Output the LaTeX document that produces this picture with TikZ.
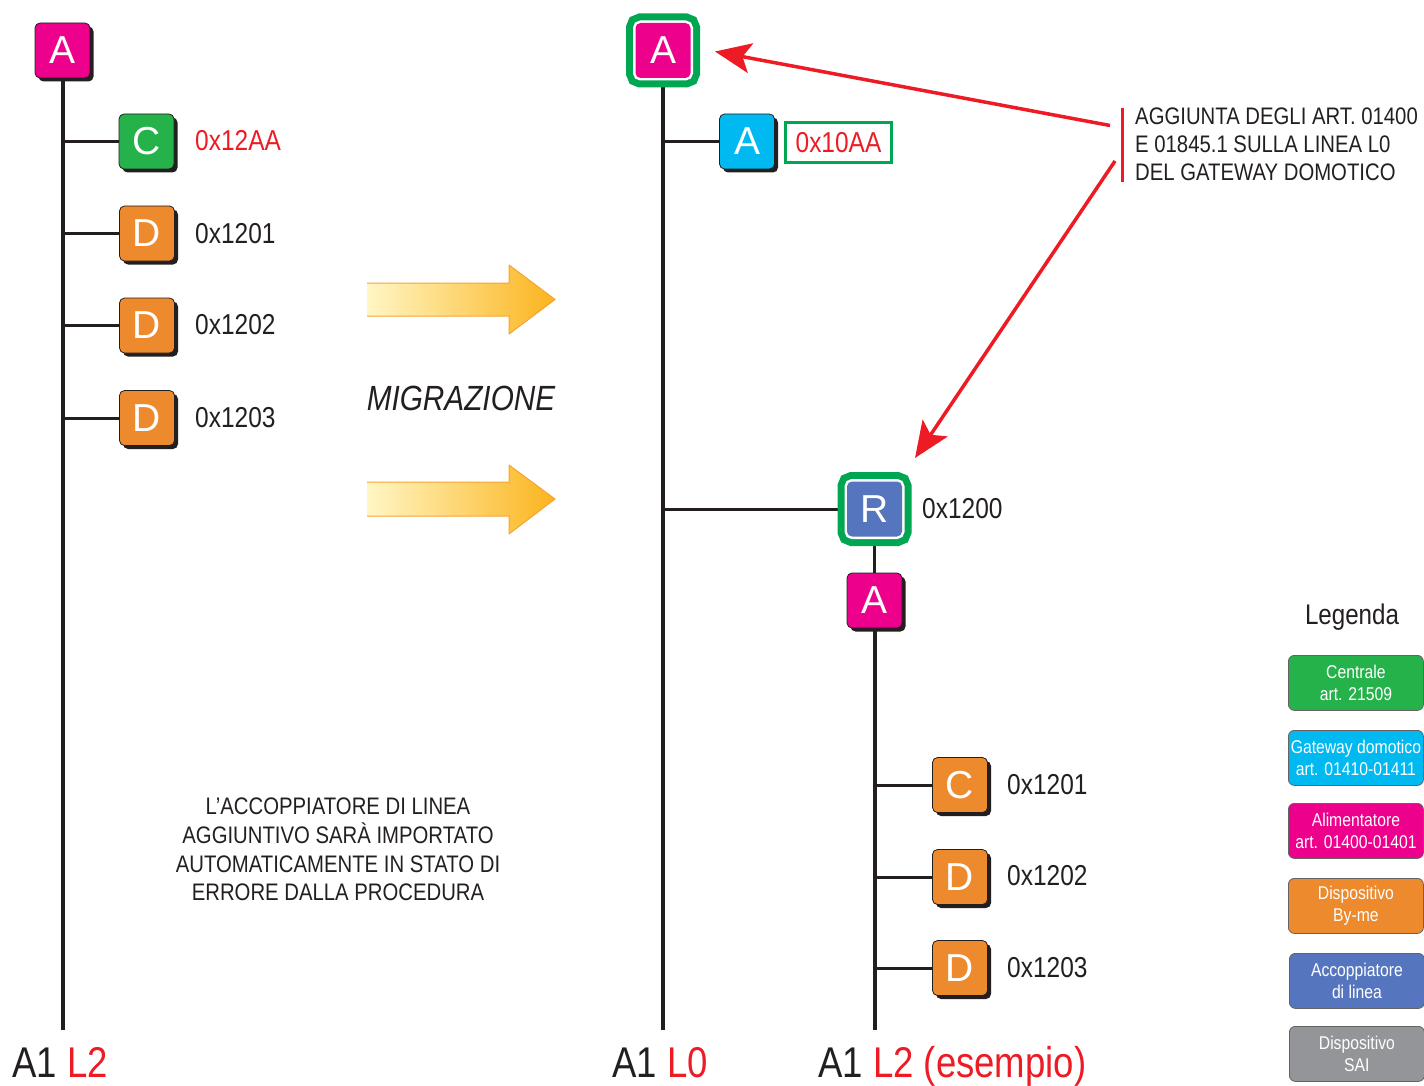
\documentclass[tikz,border=0pt]{standalone}
\usepackage{fontspec}
\setmainfont{Liberation Sans}[FakeStretch=0.85]
\newfontfamily\boxfont{Liberation Sans}
\usetikzlibrary{shadows,arrows.meta,backgrounds}
\definecolor{ink}{HTML}{231F20}
\definecolor{redc}{HTML}{ED1C24}
\definecolor{grn}{HTML}{26B24B}
\definecolor{gwgreen}{HTML}{00A651}
\definecolor{mag}{HTML}{EC008C}
\definecolor{cyan}{HTML}{00B9F1}
\definecolor{orng}{HTML}{EE8A2E}
\definecolor{rblue}{HTML}{5576BE}
\definecolor{gry}{HTML}{939598}
\definecolor{ylight}{HTML}{FFF6C4}
\definecolor{ydark}{HTML}{FBB41E}
\definecolor{yedge}{HTML}{F7A431}
\begin{document}
\begin{tikzpicture}[x=1pt,y=-1pt,
  dev/.style={rectangle, rounded corners=5pt, minimum width=55pt, minimum height=55pt,
    inner sep=0pt, draw=ink, line width=0.8pt, text=white,
    font=\boxfont\fontsize{39}{39}\selectfont,
    drop shadow={shadow xshift=3.5pt, shadow yshift=-3.5pt, fill=ink, opacity=1}},
  framed/.style={rectangle, rounded corners=5pt, minimum width=55pt, minimum height=55pt,
    inner sep=0pt, text=white, font=\boxfont\fontsize{39}{39}\selectfont,
    preaction={draw=gwgreen, line width=19pt},
    preaction={draw=white, line width=5pt}},
  lab/.style={anchor=west, inner sep=0pt, text=ink, font=\fontsize{28.8}{30}\selectfont},
  note/.style={inner sep=0pt, text=ink, font=\fontsize{23.9}{28}\selectfont},
  leg/.style={rectangle, rounded corners=6pt, minimum width=135pt, minimum height=55pt,
    inner sep=0pt, draw=ink!70, line width=0.8pt, text=white, align=center, anchor=north west,
    font=\fontsize{18.5}{22}\selectfont},
  big/.style={anchor=base west, inner sep=0pt, text=ink, font=\fontsize{43}{43}\selectfont},
  trunk/.style={draw=ink, line width=4pt},
  branch/.style={draw=ink, line width=3pt},
  redarrow/.style={draw=redc, line width=3.5pt, -{Stealth[length=36pt,width=30pt,inset=8pt]}},
  yarrow/.style={left color=ylight, right color=ydark}
]
\useasboundingbox (0,0) rectangle (1424,1086);

% ---------- left tree ----------
\node[dev, fill=mag] (A1) at (62.5,50.5) {A};
\node[dev, fill=grn] (C1) at (146.5,141.5) {C};
\node[dev, fill=orng] (D1) at (147,233.5) {D};
\node[dev, fill=orng] (D2) at (147,325.5) {D};
\node[dev, fill=orng] (D3) at (147,418) {D};
\node[lab, text=redc] (lC1) at (195,141) {0x12AA};
\node[lab] (lD1) at (195,233.5) {0x1201};
\node[lab] (lD2) at (195,325) {0x1202};
\node[lab] (lD3) at (195,418) {0x1203};
\coordinate (endL) at (62.5,1030);

% ---------- middle tree ----------
\node[framed, fill=mag] (gwA) at (663,50.5) {A};
\node[dev, fill=cyan] (gwB) at (747,141.5) {A};
\node[draw=gwgreen, line width=3pt, minimum width=106pt, minimum height=40pt, inner sep=0pt,
  text=redc, font=\fontsize{28.8}{30}\selectfont] (lgwB) at (838.5,142.5) {0x10AA};
\node[framed, fill=rblue] (R) at (874.5,509) {R};
\node[lab] (lR) at (922,509) {0x1200};
\node[dev, fill=mag] (A2) at (874.5,600.5) {A};
\node[dev, fill=orng] (C2) at (960,785) {C};
\node[dev, fill=orng] (E1) at (960,877) {D};
\node[dev, fill=orng] (E2) at (960,968) {D};
\node[lab] (lC2) at (1007,785) {0x1201};
\node[lab] (lE1) at (1007,876) {0x1202};
\node[lab] (lE2) at (1007,968) {0x1203};
\coordinate (endM) at (663,1030);
\coordinate (endR) at (874.5,1030);

\begin{scope}[on background layer]
  \draw[trunk] (A1.south) -- (endL);
  \draw[branch] (A1.south |- C1.west) -- (C1.west);
  \draw[branch] (A1.south |- D1.west) -- (D1.west);
  \draw[branch] (A1.south |- D2.west) -- (D2.west);
  \draw[branch] (A1.south |- D3.west) -- (D3.west);
  \draw[trunk] (gwA.south) -- (endM);
  \draw[branch] (gwA.south |- gwB.west) -- (gwB.west);
  \draw[branch] (gwA.south |- R.west) -- (R.west);
  \draw[branch] (R.south) -- (A2.north);
  \draw[trunk] (A2.south) -- (endR);
  \draw[branch] (A2.south |- C2.west) -- (C2.west);
  \draw[branch] (A2.south |- E1.west) -- (E1.west);
  \draw[branch] (A2.south |- E2.west) -- (E2.west);
\end{scope}

% ---------- migration arrows ----------
\shade[yarrow] (367,283) -- (509,283) -- (509,265) -- (555,299.5) -- (509,334) -- (509,316) -- (367,316) -- cycle;
\draw[yedge, line width=1pt, line join=round] (367,283) -- (509,283) -- (509,265) -- (555,299.5) -- (509,334) -- (509,316) -- (367,316);
\shade[yarrow] (367,482) -- (509,482) -- (509,465) -- (555,499) -- (509,534) -- (509,516) -- (367,516) -- cycle;
\draw[yedge, line width=1pt, line join=round] (367,482) -- (509,482) -- (509,465) -- (555,499) -- (509,534) -- (509,516) -- (367,516);
\node[inner sep=0pt, text=ink, font=\itshape\fontsize{35}{35}\selectfont] (mig) at (461,398) {MIGRAZIONE};

% ---------- note and red arrows ----------
\coordinate (bar1) at (1122.5,108);
\coordinate (bar2) at (1122.5,182);
\draw[redc, line width=3pt] (bar1) -- (bar2);
\coordinate (n1) at (1110,125.5);
\coordinate (tip1) at (715,51.5);
\coordinate (n2) at (1115,161);
\coordinate (tip2) at (915,458);
\draw[redarrow] (n1) -- (tip1);
\draw[redarrow] (n2) -- (tip2);
\node[note, anchor=base west] (t1) at (1135,125) {AGGIUNTA DEGLI ART. 01400};
\node[note, anchor=base west] (t2) at (1135,153) {E 01845.1 SULLA LINEA L0};
\node[note, anchor=base west] (t3) at (1135,181) {DEL GATEWAY DOMOTICO};

% ---------- info text ----------
\node[note, anchor=base] (i1) at (338,814.5) {L’ACCOPPIATORE DI LINEA};
\node[note, anchor=base] (i2) at (338,843.5) {AGGIUNTIVO SARÀ IMPORTATO};
\node[note, anchor=base] (i3) at (338,872) {AUTOMATICAMENTE IN STATO DI};
\node[note, anchor=base] (i4) at (338,900.5) {ERRORE DALLA PROCEDURA};

% ---------- bottom labels ----------
\node[big] (b1) at (12,1077) {A1 \textcolor{redc}{L2}};
\node[big] (b2) at (612,1077) {A1 \textcolor{redc}{L0}};
\node[big] (b3) at (818,1077) {A1 \textcolor{redc}{L2 (esempio)}};

% ---------- legend ----------
\node[inner sep=0pt, text=ink, font=\fontsize{28.4}{30}\selectfont] (legt) at (1352,617) {Legenda};
\node[leg, fill=grn] (L1) at (1288,655) {Centrale\\art. 21509};
\node[leg, fill=cyan] (L2) at (1288,730) {Gateway domotico\\art. 01410-01411};
\node[leg, fill=mag] (L3) at (1288,803) {Alimentatore\\art. 01400-01401};
\node[leg, fill=orng] (L4) at (1288,878) {Dispositivo\\By-me};
\node[leg, fill=rblue] (L5) at (1289,953) {Accoppiatore\\di linea};
\node[leg, fill=gry] (L6) at (1289,1026) {Dispositivo\\SAI};
\end{tikzpicture}
\end{document}
